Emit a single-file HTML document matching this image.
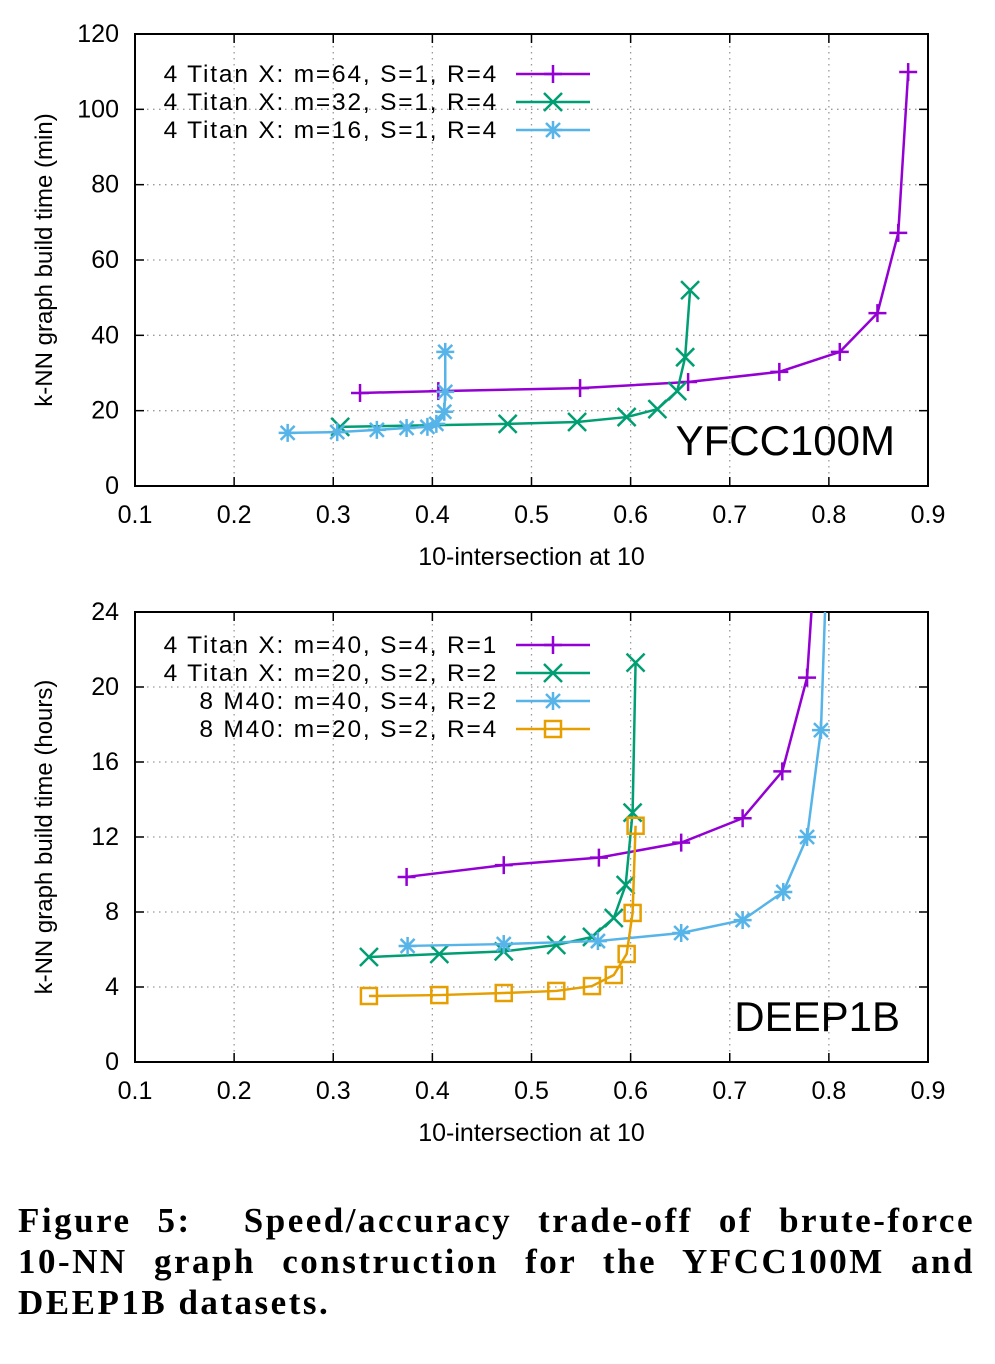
<!DOCTYPE html>
<html><head><meta charset="utf-8"><style>
body{margin:0;background:#fff;width:995px;height:1364px;overflow:hidden}
svg text{font-family:"Liberation Sans",sans-serif}
.cap{position:absolute;left:18px;top:1200px;width:957px;font-family:"Liberation Serif",serif;font-weight:bold;font-size:35px;line-height:41px}
.cap div{text-align:justify;text-align-last:justify;letter-spacing:2.5px;white-space:nowrap}
.cap div.last{text-align-last:left}
</style></head><body>
<svg id="s" width="995" height="1364" style="position:absolute;left:0;top:0"></svg>
<div class="cap"><div style="white-space:normal">Figure 5:&nbsp; Speed/accuracy trade-off of brute-force</div><div style="white-space:normal">10-NN graph construction for the YFCC100M and</div><div class="last">DEEP1B datasets.</div></div>
<script>
const xTicks=[0.1,0.2,0.3,0.4,0.5,0.6,0.7,0.8,0.9];
const yTicksA=[0,20,40,60,80,100,120];
const yTicksB=[0,4,8,12,16,20,24];
const a1x=[0.327,0.406,0.549,0.658,0.750,0.811,0.849,0.870,0.880];
const a1y=[24.7,25.2,26,27.6,30.3,35.6,45.9,67.2,109.9];
const a2x=[0.307,0.476,0.546,0.596,0.627,0.647,0.655,0.660];
const a2y=[15.7,16.5,17,18.3,20.4,25.2,34.2,52];
const a3x=[0.254,0.304,0.344,0.374,0.395,0.404,0.412,0.413,0.413];
const a3y=[14.1,14.3,14.9,15.4,15.7,16.5,19.7,25,35.6];
const b1x=[0.374,0.472,0.568,0.651,0.713,0.753,0.778,0.79];
const b1y=[9.87,10.5,10.9,11.7,13.0,15.5,20.5,30];
const b2x=[0.336,0.407,0.472,0.525,0.561,0.583,0.595,0.602,0.605];
const b2y=[5.6,5.76,5.9,6.24,6.67,7.68,9.44,13.3,21.3];
const b3x=[0.375,0.472,0.567,0.651,0.713,0.754,0.778,0.792,0.80];
const b3y=[6.19,6.29,6.45,6.88,7.57,9.07,12.0,17.7,30];
const b4x=[0.336,0.407,0.472,0.525,0.561,0.583,0.596,0.602,0.605];
const b4y=[3.52,3.57,3.68,3.79,4.05,4.64,5.76,7.95,12.6];
const NS='http://www.w3.org/2000/svg';
const S=document.getElementById('s');
function E(t,at,p){const e=document.createElementNS(NS,t);for(const k in at)e.setAttribute(k,at[k]);(p||S).appendChild(e);return e;}
let cid=0;
function chart(o){
 const L=135,R=928,T=o.top,B=o.bot;
 const X=v=>L+(v-0.1)/0.8*(R-L);
 const Y=v=>B-(v-o.ymin)/(o.ymax-o.ymin)*(B-T);
 const g=E('g',{});
 
 
 cid++;
 const cp=E('clipPath',{id:'c'+cid},g);E('rect',{x:L,y:T,width:R-L,height:B-T},cp);
 xTicks.forEach(v=>{const x=X(v);
  E('line',{x1:x,x2:x,y1:T,y2:B,stroke:'#999','stroke-dasharray':'1.5,4.5','stroke-width':1.3},g);
  E('line',{x1:x,x2:x,y1:B,y2:B-9,stroke:'#000','stroke-width':1.5},g);
  E('line',{x1:x,x2:x,y1:T,y2:T+9,stroke:'#000','stroke-width':1.5},g);
  const t=E('text',{x:x,y:B+37,'text-anchor':'middle','font-size':25},g);t.textContent=v.toFixed(1);
  
  });
 o.yt.forEach(v=>{const y=Y(v);
  E('line',{x1:L,x2:R,y1:y,y2:y,stroke:'#999','stroke-dasharray':'1.5,4.5','stroke-width':1.3},g);
  E('line',{x1:L,x2:L+9,y1:y,y2:y,stroke:'#000','stroke-width':1.5},g);
  E('line',{x1:R,x2:R-9,y1:y,y2:y,stroke:'#000','stroke-width':1.5},g);
  const t=E('text',{x:L-16,y:y+8,'text-anchor':'end','font-size':25},g);t.textContent=v;
  
  });
 E('rect',{x:L,y:T,width:R-L,height:B-T,fill:'none',stroke:'#000','stroke-width':2},g);
 let t=E('text',{x:(L+R)/2,y:B+79,'text-anchor':'middle','font-size':25},g);t.textContent='10-intersection at 10';
 
 t=E('text',{x:0,y:0,'text-anchor':'middle','font-size':24,transform:`translate(52,${(T+B)/2}) rotate(-90)`},g);t.textContent=o.ytitle;
 
 t=E('text',{x:o.lx,y:B-31,'text-anchor':'end','font-size':42},g);t.textContent=o.label;
 
 const pg=E('g',{'clip-path':`url(#c${cid})`},g);
 o.series.forEach((s,i)=>{
  const sg=E('g',{},pg);
  
  
  E('polyline',{points:s.x.map((v,j)=>X(v)+','+Y(s.y[j])).join(' '),fill:'none',stroke:s.c,'stroke-width':2.5},sg);
  s.x.forEach((v,j)=>mark(sg,s.m,X(v),Y(s.y[j]),s.c));
  const ly=T+o.lo+i*28;
  const lt=E('text',{x:498,y:ly+8,'text-anchor':'end','font-size':24.5,'letter-spacing':'1.8'},g);lt.textContent=s.name;
  
  E('line',{x1:516,x2:590,y1:ly,y2:ly,stroke:s.c,'stroke-width':2.5},g);
  mark(g,s.m,553,ly,s.c);
 });
}
function mark(p,m,x,y,c){const r=9,a={stroke:c,'stroke-width':2.5,fill:'none'};
 const ln=(x1,y1,x2,y2)=>E('line',Object.assign({x1,y1,x2,y2},a),p);
 if(m==='+'){ln(x-r,y,x+r,y);ln(x,y-r,x,y+r);}
 else if(m==='x'){ln(x-r,y-r,x+r,y+r);ln(x-r,y+r,x+r,y-r);}
 else if(m==='*'){ln(x-r,y,x+r,y);ln(x,y-r,x,y+r);ln(x-7,y-7,x+7,y+7);ln(x-7,y+7,x+7,y-7);}
 else E('rect',Object.assign({x:x-8,y:y-8,width:16,height:16},a),p);}
const P='#9400d3',G='#009e73',Bl='#56b4e9',O='#e69f00';
chart({name:'yfcc100m-chart',top:34,bot:486,ymin:0,ymax:120,yt:yTicksA,ytitle:'k-NN graph build time (min)',label:'YFCC100M',lx:895,lo:40,
 series:[{key:'m64',name:'4 Titan X: m=64, S=1, R=4',x:a1x,y:a1y,c:P,m:'+'},
 {key:'m32',name:'4 Titan X: m=32, S=1, R=4',x:a2x,y:a2y,c:G,m:'x'},
 {key:'m16',name:'4 Titan X: m=16, S=1, R=4',x:a3x,y:a3y,c:Bl,m:'*'}]});
chart({name:'deep1b-chart',top:612,bot:1062,ymin:0,ymax:24,yt:yTicksB,ytitle:'k-NN graph build time (hours)',label:'DEEP1B',lx:900,lo:33,
 series:[{key:'titan-m40',name:'4 Titan X: m=40, S=4, R=1',x:b1x,y:b1y,c:P,m:'+'},
 {key:'titan-m20',name:'4 Titan X: m=20, S=2, R=2',x:b2x,y:b2y,c:G,m:'x'},
 {key:'m40-m40',name:'8 M40: m=40, S=4, R=2',x:b3x,y:b3y,c:Bl,m:'*'},
 {key:'m40-m20',name:'8 M40: m=20, S=2, R=4',x:b4x,y:b4y,c:O,m:'s'}]});
</script>
</body></html>
